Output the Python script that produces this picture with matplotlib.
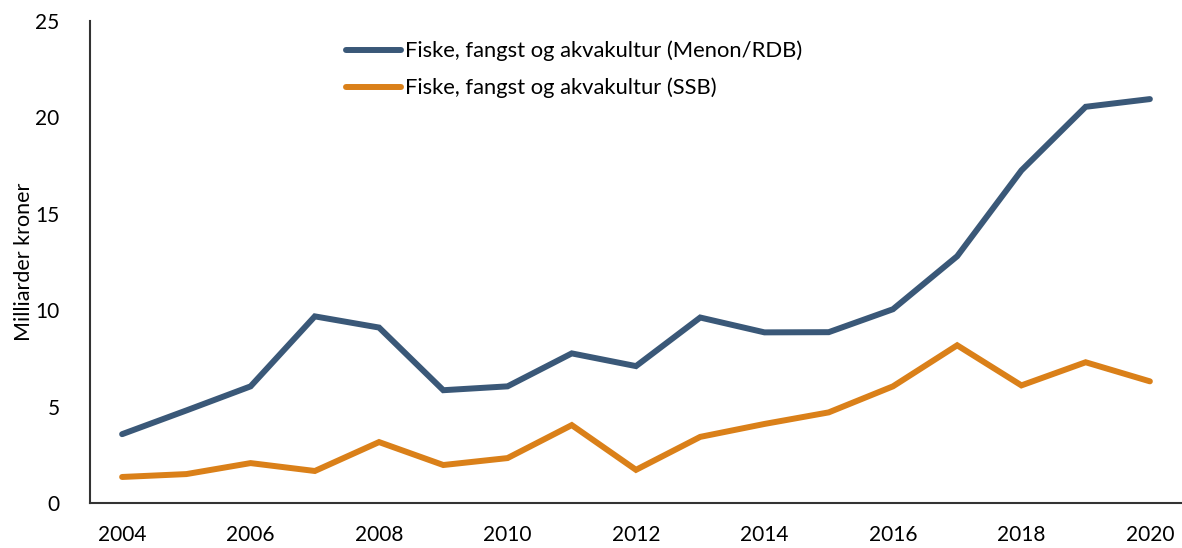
import matplotlib.pyplot as plt
import numpy as np

years = list(range(2004, 2021))
menon = [3.57, 4.8, 6.05, 9.68, 9.1, 5.85, 6.05, 7.76, 7.1, 9.62, 8.85, 8.86, 10.05, 12.8, 17.25, 20.55, 20.95]
ssb = [1.35, 1.5, 2.07, 1.66, 3.16, 1.97, 2.33, 4.04, 1.72, 3.43, 4.1, 4.7, 6.05, 8.18, 6.1, 7.3, 6.31]
labels = ['Fiske, fangst og akvakultur (Menon/RDB)', 'Fiske, fangst og akvakultur (SSB)']
colors = ['#3A5878', '#DA8019']

plt.rcParams['font.family'] = ['Lato', 'DejaVu Sans']
fig = plt.figure(figsize=(11.82, 5.48), dpi=100)
ax = fig.add_axes([90/1182, 45/548, 1092/1182, 482/548])

x = np.arange(len(years))
ax.plot(x, menon, color=colors[0], lw=4.3, solid_capstyle='round', solid_joinstyle='miter', label=labels[0])
ax.plot(x, ssb, color=colors[1], lw=4.3, solid_capstyle='round', solid_joinstyle='miter', label=labels[1])

ax.set_xlim(-0.5, len(years) - 0.5)
ax.set_ylim(0, 25)
ax.set_yticks([0, 5, 10, 15, 20, 25])
ax.set_xticks(x[::2])
ax.set_xticklabels([str(y) for y in years[::2]])
ax.tick_params(axis='both', length=0, labelsize=15, colors='black')
ax.tick_params(axis='x', pad=16)
ax.tick_params(axis='y', pad=22)
for s in ['top', 'right']:
    ax.spines[s].set_visible(False)
for s in ['left', 'bottom']:
    ax.spines[s].set_color('#333333')
    ax.spines[s].set_linewidth(1.5)
ax.set_ylabel('Milliarder kroner', fontsize=15.5, labelpad=1)

ax.legend(loc='upper left', bbox_to_anchor=(0.2165, 1.0), frameon=False, fontsize=15.8,
          handlelength=2.5, handletextpad=0.2, labelspacing=0.75)

fig.savefig('out.png', dpi=100)
